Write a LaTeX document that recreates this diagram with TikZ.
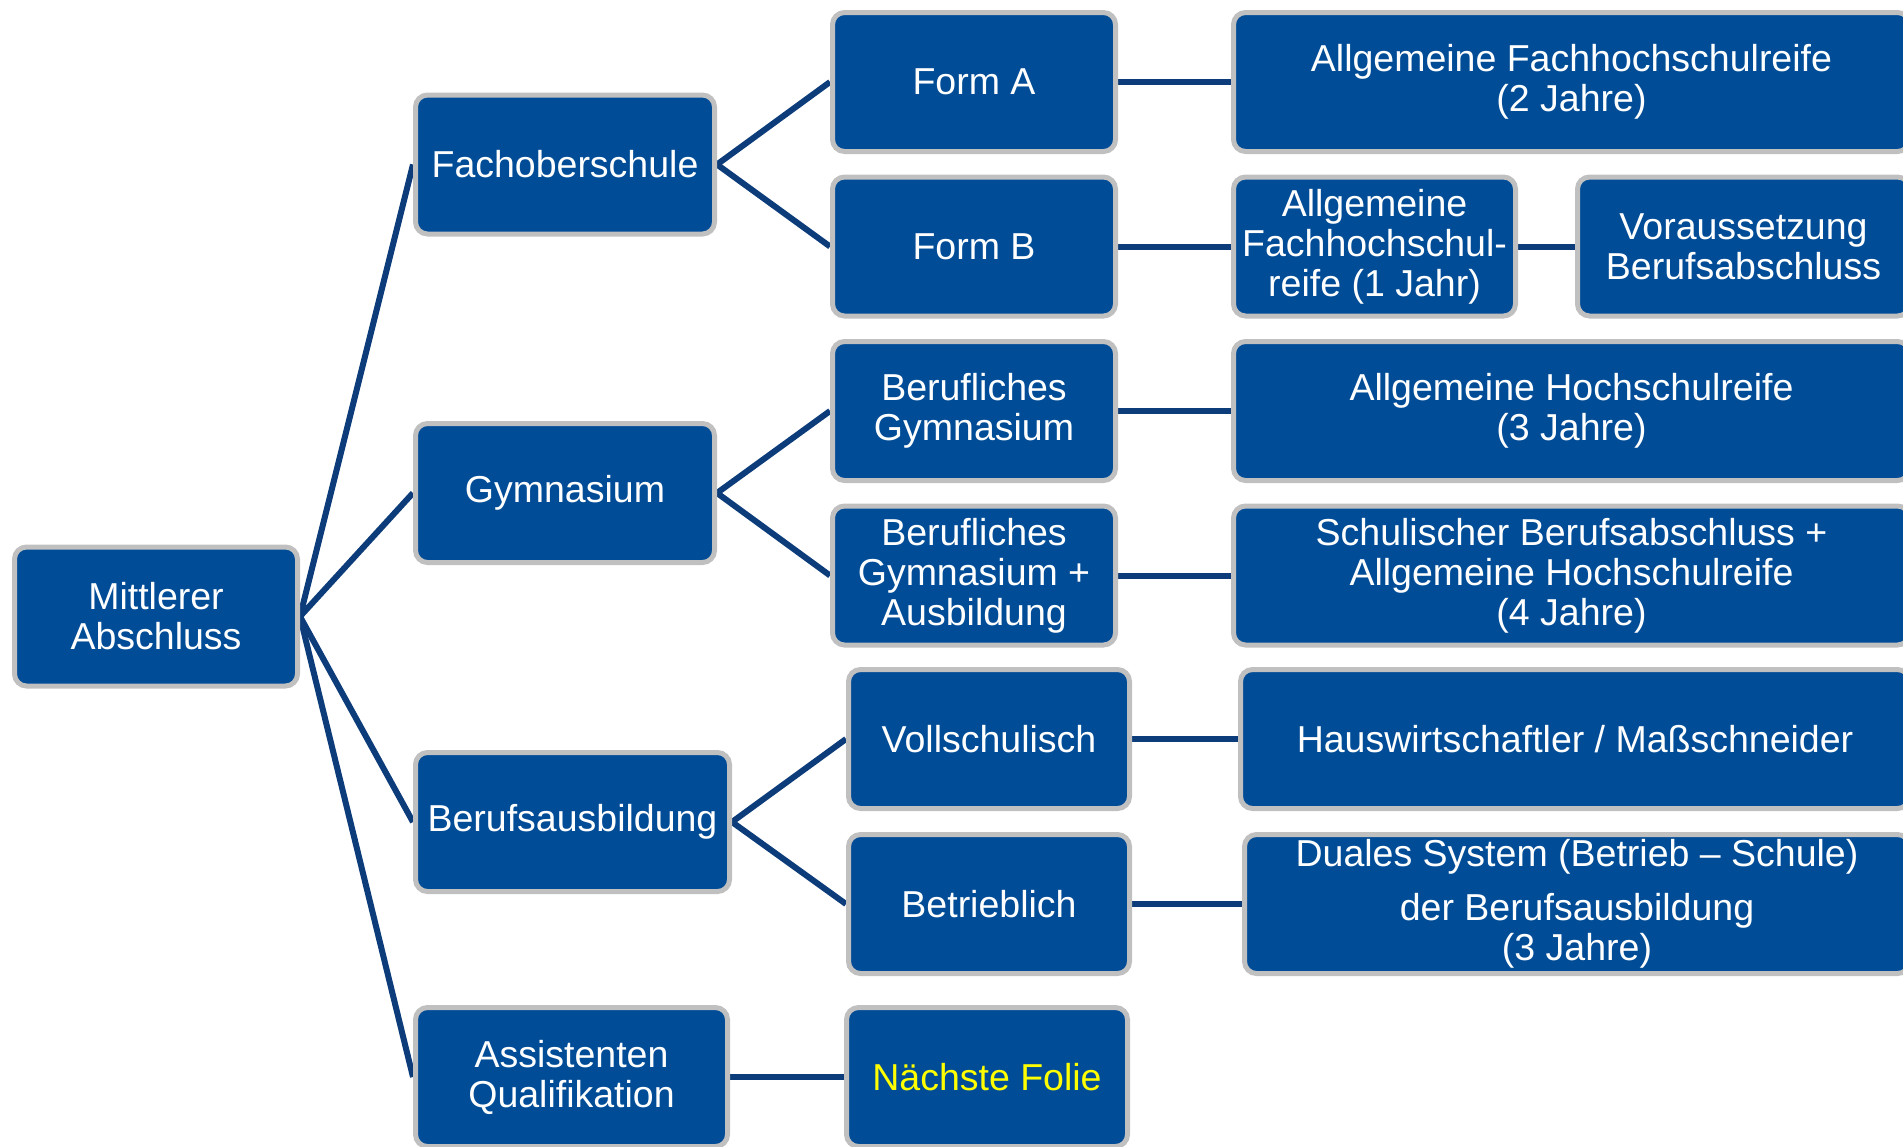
\documentclass[tikz,border=0pt]{standalone}
\usepackage{fontspec}
\setmainfont{Liberation Sans}
\usepackage{xcolor}
\usepackage{tikz}
\usetikzlibrary{positioning, backgrounds}
\definecolor{boxblue}{RGB}{0,76,151}
\definecolor{boxrim}{RGB}{192,192,192}
\definecolor{linkblue}{RGB}{12,60,122}
\definecolor{hintyellow}{RGB}{255,255,0}
\tikzset{
    stage/.style={rectangle, rounded corners=12pt, draw=boxrim, line width=5pt, fill=boxblue, text=white, align=center, inner sep=2pt, minimum width=283pt, minimum height=139pt, font=\fontsize{37.5}{40}\selectfont},
    wide/.style={stage, minimum width=676pt},
    link/.style={draw=linkblue, line width=6pt}
}

\begin{document}
\begin{tikzpicture}[x=1pt, y=-1pt]
    \useasboundingbox (0,0) rectangle (1903,1146);
    \clip (0,0) rectangle (1903,1146);

    % Root
    \node[stage] (mittel) at (156,616.5) {Mittlerer\\Abschluss};

    % Schools
    \node[stage, minimum width=299pt] (fos) at (565,164.5) {Fachoberschule};
    \node[stage, minimum width=299pt] (gym) at (565,493) {Gymnasium};
    \node[stage, minimum width=314pt] (ausb) at (572.5,822) {Berufsausbildung};
    \node[stage, minimum width=312pt] (assist) at (571.5,1077) {Assistenten\\Qualifikation};

    % Branches
    \node[stage] (formA) at (974,82) {Form A};
    \node[stage] (formB) at (974,246.5) {Form B};
    \node[stage] (bg) at (974,411) {Berufliches\\Gymnasium};
    \node[stage] (bgA) at (974,575.5) {Berufliches\\Gymnasium +\\Ausbildung};
    \node[stage, minimum width=281pt] (voll) at (989,739) {Vollschulisch};
    \node[stage, minimum width=281pt] (betr) at (989,904) {Betrieblich};
    \node[stage, minimum width=281pt, text=hintyellow] (folie) at (987,1077) {Nächste Folie};

    % Degrees
    \node[wide] (fhrZwei) at (1571.5,82) {Allgemeine Fachhochschulreife\\(2 Jahre)};
    \node[stage, minimum width=282pt] (fhrEins) at (1374.5,246.5) {Allgemeine\\Fachhochschul-\\reife (1 Jahr)};
    \node[stage, minimum width=332pt] (vorauss) at (1743.5,246.5) {Voraussetzung\\Berufsabschluss};
    \node[wide] (ahr) at (1571.5,411) {Allgemeine Hochschulreife\\(3 Jahre)};
    \node[wide] (sba) at (1571.5,575.5) {Schulischer Berufsabschluss +\\Allgemeine Hochschulreife\\(4 Jahre)};
    \node[wide, minimum width=669pt] (hausw) at (1575,739) {Hauswirtschaftler / Maßschneider};
    \node[wide, minimum width=665pt] (dual) at (1577,904) {Duales System (Betrieb – Schule)\\[14pt]der Berufsausbildung\\(3 Jahre)};

    % Connectors
    \begin{scope}[on background layer]
        \foreach \kid in {fos, gym, ausb, assist}
            \draw[link] (mittel.east) -- (\kid.west);
        \draw[link] (fos.east) -- (formA.west);
        \draw[link] (fos.east) -- (formB.west);
        \draw[link] (gym.east) -- (bg.west);
        \draw[link] (gym.east) -- (bgA.west);
        \draw[link] (ausb.east) -- (voll.west);
        \draw[link] (ausb.east) -- (betr.west);
        \draw[link] (assist) -- (folie);
        \draw[link] (formA) -- (fhrZwei);
        \draw[link] (formB) -- (fhrEins);
        \draw[link] (fhrEins) -- (vorauss);
        \draw[link] (bg) -- (ahr);
        \draw[link] (bgA) -- (sba);
        \draw[link] (voll) -- (hausw);
        \draw[link] (betr) -- (dual);
    \end{scope}
\end{tikzpicture}
\end{document}
